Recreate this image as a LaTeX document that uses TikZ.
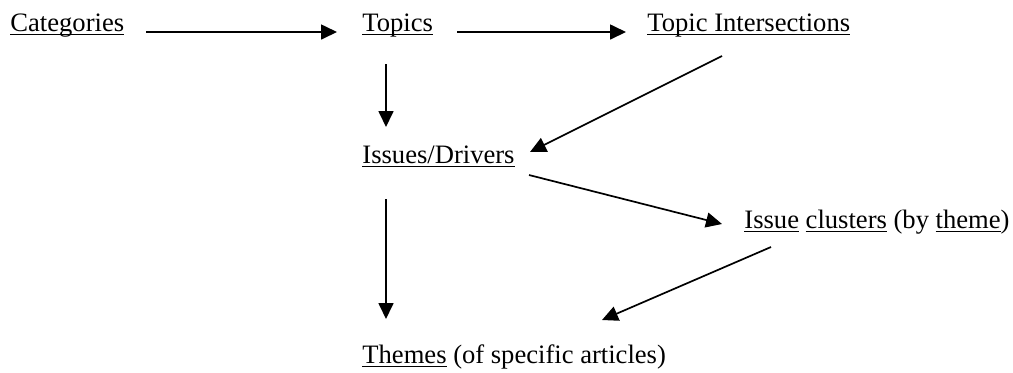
\documentclass[tikz,border=0pt]{standalone}
\usepackage{fontspec}
\setmainfont{Liberation Serif}
\usepackage{tikz}
\usetikzlibrary{
    arrows.meta,
    calc
}
\newsavebox{\ulbox}
\newcommand{\ulword}[1]{\sbox\ulbox{#1}\rlap{\rule[-2pt]{\wd\ulbox}{0.65pt}}\usebox\ulbox}

\begin{document}
\begin{tikzpicture}[x=0.5pt, y=-0.5pt,
        lbl/.style={inner sep=0pt, anchor=base west, font=\fontsize{13.3}{16}\selectfont},
        arr/.style={line width=0.85pt, -{Triangle[length=8pt, width=7.5pt]}}]
                        \useasboundingbox (0, 0) rectangle (1013, 372);
                        \node[lbl] (cat) at (10, 31) {\ulword{Categories}};
                        \node[lbl] (top) at (362, 31) {\ulword{Topics}};
                        \node[lbl] (tint) at (647, 31) {\ulword{Topic Intersections}};
                        \node[lbl] (iss) at (362, 163) {\ulword{Issues/Drivers}};
                        \node[lbl] (clu) at (744, 228) {\ulword{Issue} \ulword{clusters} (by \ulword{theme})};
                        \node[lbl] (thm) at (362, 363) {\ulword{Themes} (of specific articles)};
                        \draw[arr] ($(cat.base west)+(136, 1)$) -- ($(top.base west)+(-25, 1)$);
                        \draw[arr] ($(top.base west)+(95, 1)$) -- ($(tint.base west)+(-21, 1)$);
                        \draw[arr] ($(top.base west)+(24, 33)$) -- ($(iss.base west)+(24, -36)$);
                        \draw[arr] ($(tint.base west)+(75, 25)$) -- ($(iss.base west)+(168, -11)$);
                        \draw[arr] ($(iss.base west)+(167, 12)$) -- ($(clu.base west)+(-22, -4)$);
                        \draw[arr] ($(clu.base west)+(27, 19)$) -- ($(thm.base west)+(240, -43)$);
                        \draw[arr] ($(iss.base west)+(24, 36)$) -- ($(thm.base west)+(24, -44)$);
                    \end{tikzpicture}
\end{document}
